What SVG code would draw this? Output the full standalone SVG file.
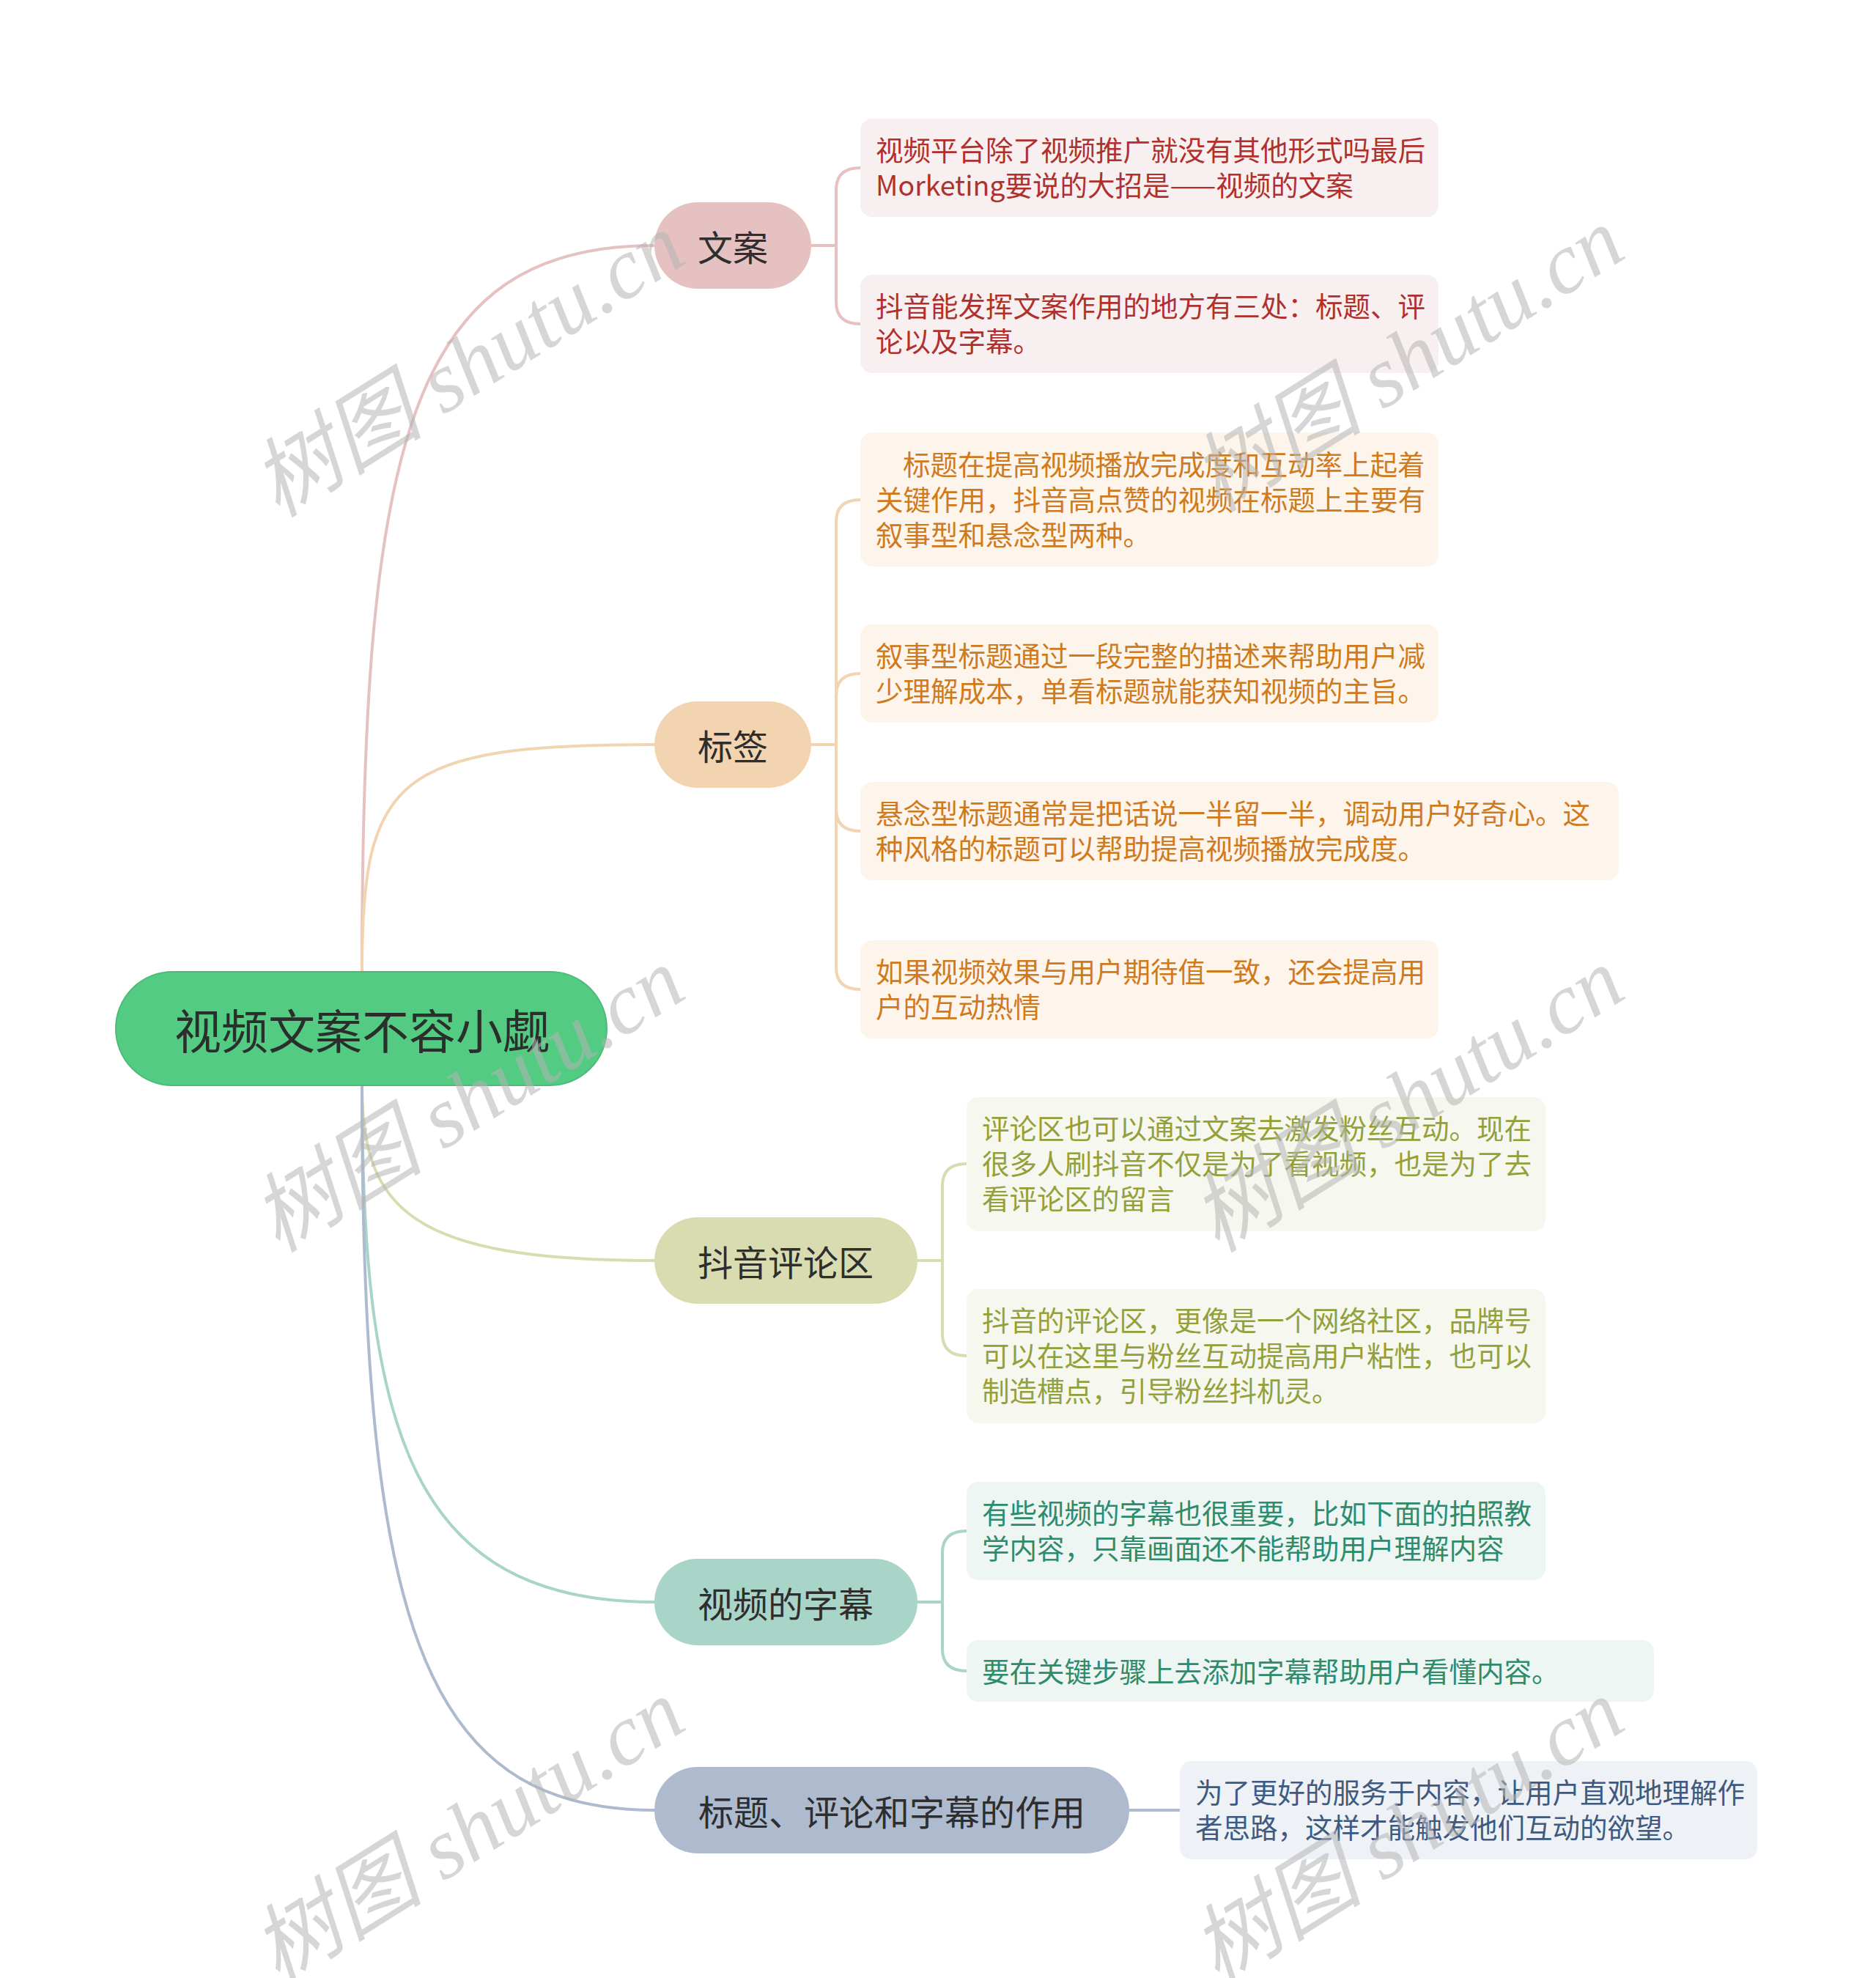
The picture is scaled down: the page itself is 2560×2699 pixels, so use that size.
<svg xmlns="http://www.w3.org/2000/svg" width="2560" height="2699" viewBox="0 0 2560 2699">
<style>
.bg{fill:#ffffff}
.conn{fill:none;stroke-width:4;stroke-linecap:round}
.root-t{font-family:"Noto Sans CJK SC","Noto Sans",sans-serif;font-size:64px;fill:#2a2f2b;text-anchor:middle;dominant-baseline:central}
.br-t{font-family:"Noto Sans CJK SC","Noto Sans",sans-serif;font-size:48px;fill:#2e2e2e;text-anchor:middle;dominant-baseline:central}
.lf-t{font-family:"Noto Sans CJK SC","Noto Sans",sans-serif;font-size:37.5px;dominant-baseline:central}
.wm{font-family:"Liberation Serif","Noto Sans CJK SC",serif;font-style:italic;font-size:118px;fill:#b4b4b4;fill-opacity:0.55}
</style>
<rect class="bg" x="0" y="0" width="2560" height="2699"/>

<g id="connectors">
  <path class="conn" stroke="#e6c1c1" d="M494 1326 C494 600 560 335 893 335"/>
  <path class="conn" stroke="#f2d4b1" d="M494 1326 C494 1060 540 1016 893 1016"/>
  <path class="conn" stroke="#d9dcb0" d="M494 1481 C494 1650 560 1720 893 1720"/>
  <path class="conn" stroke="#a9d4c8" d="M494 1481 C494 1950 560 2186 893 2186"/>
  <path class="conn" stroke="#aebbcf" d="M494 1481 C494 2200 570 2470 893 2470"/>
  <path class="conn" stroke="#e6c1c1" d="M1107 335 H1141 M1141 335 V259 Q1141 229 1174 229 M1141 335 V412 Q1141 442 1174 442"/>
  <path class="conn" stroke="#f2d4b1" d="M1107 1016 H1141 M1141 1016 V712 Q1141 682 1174 682 M1141 1016 V949 Q1141 919 1174 919 M1141 1016 V1104 Q1141 1134 1174 1134 M1141 1016 V1320 Q1141 1350 1174 1350"/>
  <path class="conn" stroke="#d9dcb0" d="M1252 1720 H1286 M1286 1720 V1618 Q1286 1588 1319 1588 M1286 1720 V1820 Q1286 1850 1319 1850"/>
  <path class="conn" stroke="#a9d4c8" d="M1252 2186 H1286 M1286 2186 V2119 Q1286 2089 1319 2089 M1286 2186 V2250 Q1286 2280 1319 2280"/>
  <path class="conn" stroke="#aebbcf" d="M1541 2470 H1610"/>
</g>

<g id="root">
  <rect x="158" y="1326" width="670" height="155" rx="77.5" fill="#53cb82" stroke="#4cbb78" stroke-width="2"/>
  <text class="root-t" x="494" y="1403">视频文案不容小觑</text>
</g>

<g id="b-wenan">
  <rect x="893" y="276" width="214" height="118" rx="59" fill="#e6c1c1"/>
  <text class="br-t" x="1000" y="335">文案</text>
</g>
<g id="b-biaoqian">
  <rect x="893" y="957" width="214" height="118" rx="59" fill="#f2d4b1"/>
  <text class="br-t" x="1000" y="1016">标签</text>
</g>
<g id="b-pinglun">
  <rect x="893" y="1661" width="359" height="118" rx="59" fill="#d9dcb0"/>
  <text class="br-t" x="1072" y="1720">抖音评论区</text>
</g>
<g id="b-zimu">
  <rect x="893" y="2127" width="359" height="118" rx="59" fill="#a9d4c8"/>
  <text class="br-t" x="1072" y="2186">视频的字幕</text>
</g>
<g id="b-zuoyong">
  <rect x="893" y="2411" width="648" height="118" rx="59" fill="#aebbcf"/>
  <text class="br-t" x="1217" y="2470">标题、评论和字幕的作用</text>
</g>

<g id="l-wenan-1">
  <rect x="1174" y="162" width="789" height="134" rx="16" fill="#f8f0f0"/>
  <text class="lf-t" fill="#b0302e"><tspan x="1195" y="202">视频平台除了视频推广就没有其他形式吗最后</tspan><tspan x="1195" y="250">Morketing要说的大招是——视频的文案</tspan></text>
</g>
<g id="l-wenan-2">
  <rect x="1174" y="375" width="789" height="134" rx="16" fill="#f8f0f0"/>
  <text class="lf-t" fill="#b0302e"><tspan x="1195" y="415">抖音能发挥文案作用的地方有三处：标题、评</tspan><tspan x="1195" y="463">论以及字幕。</tspan></text>
</g>

<g id="l-biaoqian-1">
  <rect x="1174" y="590" width="789" height="183" rx="16" fill="#fdf5ec"/>
  <text class="lf-t" fill="#d07a1e"><tspan x="1232" y="631">标题在提高视频播放完成度和互动率上起着</tspan><tspan x="1195" y="679">关键作用，抖音高点赞的视频在标题上主要有</tspan><tspan x="1195" y="727">叙事型和悬念型两种。</tspan></text>
</g>
<g id="l-biaoqian-2">
  <rect x="1174" y="852" width="789" height="134" rx="16" fill="#fdf5ec"/>
  <text class="lf-t" fill="#d07a1e"><tspan x="1195" y="892">叙事型标题通过一段完整的描述来帮助用户减</tspan><tspan x="1195" y="940">少理解成本，单看标题就能获知视频的主旨。</tspan></text>
</g>
<g id="l-biaoqian-3">
  <rect x="1174" y="1067" width="1035" height="134" rx="16" fill="#fdf5ec"/>
  <text class="lf-t" fill="#d07a1e"><tspan x="1195" y="1107">悬念型标题通常是把话说一半留一半，调动用户好奇心。这</tspan><tspan x="1195" y="1155">种风格的标题可以帮助提高视频播放完成度。</tspan></text>
</g>
<g id="l-biaoqian-4">
  <rect x="1174" y="1283" width="789" height="134" rx="16" fill="#fdf5ec"/>
  <text class="lf-t" fill="#d07a1e"><tspan x="1195" y="1323">如果视频效果与用户期待值一致，还会提高用</tspan><tspan x="1195" y="1371">户的互动热情</tspan></text>
</g>

<g id="l-pinglun-1">
  <rect x="1319" y="1497" width="790" height="183" rx="16" fill="#f6f7ee"/>
  <text class="lf-t" fill="#94a03a"><tspan x="1340" y="1537">评论区也可以通过文案去激发粉丝互动。现在</tspan><tspan x="1340" y="1585">很多人刷抖音不仅是为了看视频，也是为了去</tspan><tspan x="1340" y="1633">看评论区的留言</tspan></text>
</g>
<g id="l-pinglun-2">
  <rect x="1319" y="1759" width="790" height="183" rx="16" fill="#f6f7ee"/>
  <text class="lf-t" fill="#94a03a"><tspan x="1340" y="1799">抖音的评论区，更像是一个网络社区，品牌号</tspan><tspan x="1340" y="1847">可以在这里与粉丝互动提高用户粘性，也可以</tspan><tspan x="1340" y="1895">制造槽点，引导粉丝抖机灵。</tspan></text>
</g>

<g id="l-zimu-1">
  <rect x="1319" y="2022" width="790" height="134" rx="16" fill="#edf6f3"/>
  <text class="lf-t" fill="#2e8b6c"><tspan x="1340" y="2062">有些视频的字幕也很重要，比如下面的拍照教</tspan><tspan x="1340" y="2110">学内容，只靠画面还不能帮助用户理解内容</tspan></text>
</g>
<g id="l-zimu-2">
  <rect x="1319" y="2238" width="938" height="84" rx="16" fill="#edf6f3"/>
  <text class="lf-t" fill="#2e8b6c"><tspan x="1340" y="2278">要在关键步骤上去添加字幕帮助用户看懂内容。</tspan></text>
</g>

<g id="l-zuoyong-1">
  <rect x="1610" y="2403" width="788" height="134" rx="16" fill="#eef1f5"/>
  <text class="lf-t" fill="#3e5a80"><tspan x="1631" y="2443">为了更好的服务于内容，让用户直观地理解作</tspan><tspan x="1631" y="2491">者思路，这样才能触发他们互动的欲望。</tspan></text>
</g>

<g id="watermarks">
  <text class="wm" text-anchor="middle" transform="translate(660 532) rotate(-32)">树图 shutu.cn</text>
  <text class="wm" text-anchor="middle" transform="translate(1942 525) rotate(-32)">树图 shutu.cn</text>
  <text class="wm" text-anchor="middle" transform="translate(660 1535) rotate(-32)">树图 shutu.cn</text>
  <text class="wm" text-anchor="middle" transform="translate(1942 1535) rotate(-32)">树图 shutu.cn</text>
  <text class="wm" text-anchor="middle" transform="translate(660 2533) rotate(-32)">树图 shutu.cn</text>
  <text class="wm" text-anchor="middle" transform="translate(1942 2533) rotate(-32)">树图 shutu.cn</text>
</g>
</svg>
